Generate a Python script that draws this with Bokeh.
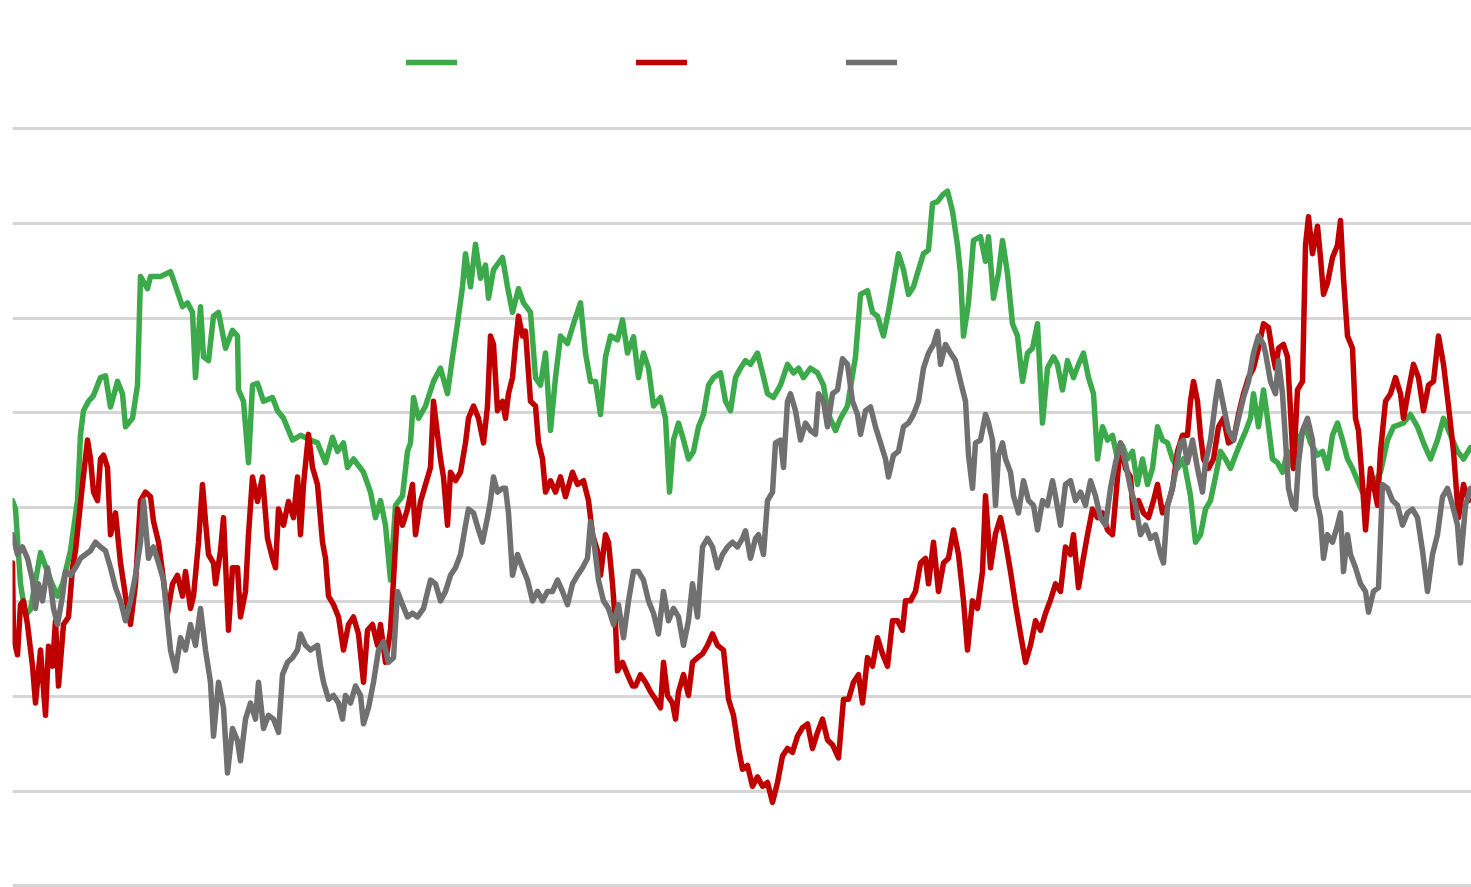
from bokeh.plotting import figure
from bokeh.models import Range1d, Grid, FixedTicker, Legend, LegendItem
from bokeh.embed import file_html
from bokeh.resources import INLINE

# ---- data (trading-day index, index level) ----
green_day = [0, 3, 8, 13, 18, 28, 38, 45, 50, 58, 65, 68, 71, 76, 81, 88, 93, 98, 105, 110, 113, 120, 125, 128, 135, 138, 148, 158, 163, 170, 175, 180, 183, 188, 191, 196, 201, 206, 213, 220, 225, 226, 231, 236, 240, 245, 251, 260, 265, 271, 280, 288, 298, 305, 313, 320, 325, 331, 335, 341, 351, 358, 363, 368, 373, 378, 383, 390, 395, 398, 401, 406, 413, 421, 428, 435, 440, 445, 450, 453, 458, 463, 468, 473, 476, 481, 490, 495, 500, 506, 511, 518, 523, 528, 533, 538, 543, 548, 555, 561, 568, 573, 578, 583, 588, 593, 598, 605, 610, 615, 621, 626, 631, 636, 641, 648, 653, 657, 661, 666, 671, 676, 681, 686, 691, 696, 701, 708, 713, 718, 723, 728, 733, 738, 745, 750, 755, 761, 768, 775, 781, 786, 791, 798, 805, 811, 816, 823, 828, 835, 843, 848, 855, 860, 865, 871, 876, 881, 886, 891, 896, 901, 906, 911, 916, 920, 925, 930, 935, 940, 945, 948, 951, 956, 961, 968, 973, 976, 981, 986, 990, 995, 1000, 1005, 1010, 1015, 1020, 1025, 1030, 1035, 1041, 1045, 1050, 1055, 1061, 1066, 1071, 1076, 1081, 1085, 1090, 1095, 1100, 1105, 1110, 1115, 1120, 1125, 1130, 1135, 1140, 1145, 1150, 1155, 1160, 1165, 1171, 1178, 1183, 1188, 1193, 1198, 1203, 1208, 1213, 1218, 1223, 1228, 1233, 1238, 1241, 1246, 1251, 1255, 1260, 1265, 1270, 1275, 1281, 1288, 1293, 1298, 1305, 1310, 1315, 1320, 1325, 1330, 1335, 1340, 1345, 1350, 1358, 1368, 1375, 1381, 1391, 1398, 1405, 1411, 1418, 1425, 1431, 1438, 1445, 1451, 1458]
green_val = [40.7, 39.8, 31.9, 28.6, 29.2, 35.2, 32.3, 30.6, 31.9, 35.4, 40.7, 47.7, 50.2, 51.2, 51.8, 53.7, 53.9, 50.6, 53.3, 52.0, 48.5, 49.4, 52.9, 64.4, 63.1, 64.4, 64.4, 64.9, 63.4, 61.2, 61.6, 60.6, 53.7, 61.2, 55.9, 55.5, 60.2, 60.6, 56.8, 58.7, 58.1, 52.4, 51.2, 44.7, 52.9, 53.1, 51.2, 51.6, 50.2, 49.4, 47.1, 47.6, 47.1, 46.8, 44.7, 47.4, 45.9, 46.8, 44.2, 45.1, 43.7, 41.6, 38.9, 40.7, 38.1, 32.3, 40.2, 41.2, 45.9, 46.8, 51.6, 49.4, 50.7, 53.3, 54.7, 52.0, 55.9, 59.4, 63.3, 66.8, 63.3, 67.8, 64.2, 65.6, 62.1, 65.1, 66.4, 63.3, 60.6, 63.1, 61.6, 60.6, 53.7, 52.9, 56.3, 48.1, 53.7, 58.1, 57.3, 59.4, 61.6, 56.3, 53.3, 53.3, 49.8, 55.9, 58.1, 57.7, 59.8, 56.3, 58.0, 53.7, 56.3, 54.7, 50.7, 51.6, 49.4, 41.6, 47.1, 48.9, 47.1, 45.1, 45.9, 48.5, 49.8, 52.9, 53.7, 54.2, 51.2, 50.2, 53.7, 54.7, 55.5, 55.1, 56.3, 54.2, 52.0, 51.6, 52.9, 55.1, 54.2, 54.7, 53.7, 54.7, 54.2, 52.9, 49.8, 48.1, 49.4, 50.7, 55.9, 62.5, 62.9, 60.6, 60.2, 58.1, 60.7, 63.7, 66.8, 65.1, 62.5, 63.3, 65.1, 66.8, 67.2, 72.1, 72.3, 73.0, 73.4, 71.3, 67.7, 64.7, 58.1, 61.6, 68.2, 68.6, 66.0, 68.6, 62.1, 64.7, 68.2, 64.7, 59.4, 58.1, 53.3, 56.3, 56.8, 59.4, 48.9, 54.7, 55.9, 55.1, 52.4, 55.5, 53.7, 55.1, 56.3, 53.7, 52.0, 45.1, 48.5, 47.1, 47.6, 45.1, 46.5, 45.1, 45.9, 42.4, 45.1, 42.4, 44.1, 48.5, 47.1, 46.8, 45.1, 44.1, 45.1, 41.2, 36.3, 37.1, 39.8, 40.7, 43.2, 45.9, 45.1, 44.1, 45.5, 46.8, 48.0, 49.4, 52.0, 48.5, 52.4, 49.4, 45.1, 44.7, 43.7, 45.9, 44.1, 47.6, 48.5, 46.8, 45.5, 45.9, 44.1, 47.6, 48.9, 47.1, 45.1, 44.1, 42.8, 41.6, 41.9, 43.7, 47.1, 48.5, 48.9, 49.8, 48.5, 46.8, 45.1, 47.1, 49.4, 47.6, 45.9, 45.1, 46.3]

red_day = [0, 1, 5, 8, 11, 15, 20, 23, 28, 33, 36, 40, 43, 46, 51, 56, 60, 63, 70, 75, 78, 81, 85, 88, 91, 95, 98, 103, 108, 113, 118, 123, 128, 133, 138, 141, 146, 151, 155, 160, 165, 170, 173, 178, 181, 186, 190, 193, 196, 201, 203, 208, 211, 216, 220, 225, 228, 233, 236, 240, 245, 250, 255, 260, 263, 266, 271, 276, 281, 285, 288, 291, 296, 300, 305, 310, 313, 316, 321, 326, 331, 336, 341, 346, 351, 355, 360, 365, 368, 373, 378, 381, 385, 390, 395, 400, 403, 408, 413, 418, 421, 425, 428, 431, 435, 438, 443, 448, 453, 456, 461, 466, 471, 475, 478, 481, 485, 490, 493, 496, 500, 503, 506, 510, 513, 518, 523, 526, 530, 533, 538, 543, 548, 553, 560, 565, 571, 576, 580, 585, 588, 593, 596, 600, 603, 605, 610, 615, 620, 623, 628, 633, 638, 643, 648, 651, 655, 660, 663, 666, 671, 676, 680, 685, 690, 695, 700, 705, 711, 716, 721, 726, 730, 735, 740, 745, 750, 755, 760, 765, 770, 775, 780, 785, 790, 795, 800, 805, 810, 815, 820, 826, 831, 836, 841, 846, 850, 855, 860, 865, 870, 875, 880, 885, 890, 893, 898, 903, 908, 913, 916, 921, 926, 931, 936, 941, 946, 951, 955, 960, 965, 970, 973, 978, 983, 988, 993, 998, 1003, 1008, 1013, 1018, 1023, 1028, 1033, 1038, 1043, 1048, 1053, 1058, 1061, 1066, 1070, 1075, 1080, 1085, 1090, 1095, 1100, 1103, 1108, 1113, 1118, 1121, 1126, 1131, 1136, 1141, 1145, 1150, 1155, 1160, 1165, 1170, 1175, 1178, 1181, 1185, 1188, 1191, 1196, 1201, 1206, 1211, 1216, 1221, 1226, 1231, 1236, 1241, 1246, 1251, 1256, 1260, 1263, 1266, 1271, 1275, 1278, 1281, 1285, 1290, 1293, 1296, 1300, 1305, 1308, 1311, 1315, 1320, 1325, 1328, 1331, 1335, 1340, 1343, 1346, 1350, 1353, 1358, 1361, 1365, 1368, 1373, 1378, 1383, 1388, 1391, 1396, 1401, 1406, 1411, 1416, 1421, 1426, 1431, 1436, 1441, 1446, 1451, 1456]
red_val = [34.1, 26.2, 24.4, 29.7, 30.1, 27.6, 23.2, 19.3, 24.9, 18.0, 25.3, 23.2, 28.0, 21.1, 27.6, 28.4, 33.6, 35.4, 42.4, 47.1, 45.1, 41.6, 40.7, 45.1, 45.5, 44.2, 37.1, 39.4, 34.1, 30.6, 27.6, 31.9, 40.7, 41.6, 41.1, 38.5, 36.3, 32.3, 28.8, 31.9, 32.8, 30.6, 33.2, 29.3, 30.6, 36.3, 42.4, 38.5, 35.0, 34.1, 31.9, 35.4, 38.9, 27.0, 33.6, 33.6, 28.4, 31.1, 37.1, 43.2, 40.6, 43.2, 36.7, 34.6, 33.6, 39.8, 38.1, 40.6, 38.9, 43.2, 37.1, 42.4, 47.7, 44.2, 42.4, 36.3, 34.6, 30.6, 29.7, 28.4, 24.9, 27.6, 28.4, 26.6, 21.5, 27.0, 27.6, 25.4, 27.6, 23.6, 27.0, 32.3, 39.8, 38.1, 39.8, 42.4, 37.1, 40.6, 42.4, 44.2, 51.2, 47.7, 45.1, 43.2, 38.1, 43.7, 42.8, 43.7, 46.8, 49.4, 50.7, 49.4, 46.8, 50.7, 58.1, 57.2, 50.2, 51.2, 49.4, 52.0, 53.7, 57.2, 60.2, 58.1, 58.6, 51.2, 50.7, 46.8, 45.1, 41.6, 42.8, 41.6, 43.2, 41.1, 43.7, 42.4, 42.8, 40.7, 37.1, 35.4, 32.8, 37.1, 36.3, 31.9, 27.6, 22.7, 23.6, 22.3, 21.1, 21.1, 22.3, 21.5, 20.5, 19.7, 18.8, 23.6, 20.1, 19.3, 17.6, 20.5, 22.3, 20.1, 23.6, 24.1, 24.5, 25.4, 26.6, 25.4, 24.9, 19.7, 18.0, 14.5, 12.3, 12.7, 10.5, 11.5, 10.5, 10.9, 8.8, 10.9, 13.7, 14.5, 14.1, 15.8, 16.7, 17.1, 14.5, 16.2, 17.6, 15.4, 14.9, 13.5, 19.7, 19.7, 21.5, 22.3, 19.3, 24.1, 23.2, 26.2, 24.5, 23.2, 28.0, 28.0, 27.0, 30.1, 30.1, 31.1, 34.1, 34.6, 31.9, 36.3, 31.1, 34.1, 34.6, 37.6, 35.0, 30.1, 24.9, 30.1, 29.3, 33.2, 41.2, 33.6, 37.2, 38.9, 36.3, 33.2, 29.7, 26.6, 23.6, 25.4, 28.0, 27.0, 28.8, 30.2, 31.9, 31.1, 35.8, 35.0, 37.1, 31.5, 34.1, 37.1, 39.8, 38.9, 39.4, 37.6, 37.1, 40.7, 46.8, 44.1, 43.2, 38.9, 40.7, 39.4, 38.9, 40.7, 42.4, 39.4, 40.2, 42.0, 45.9, 47.6, 47.6, 51.2, 53.3, 51.2, 47.6, 45.1, 44.1, 45.1, 48.5, 49.4, 46.8, 47.1, 49.8, 52.0, 53.7, 54.7, 56.8, 59.4, 59.0, 56.3, 54.7, 56.8, 57.2, 55.9, 50.2, 44.1, 52.4, 53.3, 67.7, 70.7, 66.8, 69.7, 66.4, 62.5, 63.7, 66.4, 67.7, 70.3, 64.2, 58.1, 56.8, 49.4, 48.1, 42.4, 37.6, 44.1, 42.4, 40.2, 45.9, 51.2, 52.0, 53.7, 52.0, 49.4, 52.4, 55.1, 53.7, 50.2, 52.9, 53.3, 58.1, 55.1, 50.7, 45.9, 38.9, 42.4, 40.7]

gray_day = [0, 5, 10, 15, 20, 23, 26, 30, 35, 38, 41, 45, 50, 53, 58, 63, 68, 73, 78, 83, 88, 93, 98, 103, 108, 113, 118, 123, 128, 131, 136, 141, 146, 151, 155, 158, 163, 168, 173, 178, 183, 188, 193, 198, 201, 206, 211, 215, 220, 225, 228, 233, 238, 243, 246, 251, 256, 261, 266, 270, 275, 280, 285, 288, 293, 298, 305, 308, 311, 316, 321, 326, 330, 333, 338, 343, 348, 351, 356, 361, 366, 371, 376, 381, 385, 390, 395, 400, 405, 411, 418, 423, 428, 433, 438, 443, 448, 453, 456, 461, 466, 470, 475, 478, 481, 485, 490, 493, 496, 500, 505, 510, 515, 520, 525, 530, 535, 540, 545, 550, 555, 560, 565, 570, 575, 578, 581, 586, 591, 596, 601, 606, 611, 616, 621, 626, 631, 636, 641, 646, 651, 656, 661, 666, 671, 676, 680, 685, 690, 695, 700, 705, 710, 715, 720, 725, 730, 733, 738, 743, 746, 751, 755, 760, 763, 768, 771, 775, 778, 783, 788, 793, 798, 803, 806, 811, 815, 820, 825, 830, 835, 840, 845, 848, 853, 858, 863, 868, 873, 876, 881, 886, 891, 896, 901, 906, 911, 916, 921, 925, 928, 933, 938, 943, 948, 953, 956, 960, 963, 968, 973, 976, 980, 983, 986, 990, 993, 998, 1001, 1006, 1011, 1016, 1021, 1025, 1030, 1035, 1040, 1043, 1048, 1053, 1058, 1063, 1068, 1073, 1078, 1083, 1088, 1093, 1098, 1103, 1108, 1113, 1118, 1123, 1128, 1133, 1138, 1143, 1148, 1151, 1155, 1158, 1163, 1168, 1171, 1175, 1180, 1185, 1190, 1193, 1198, 1203, 1206, 1211, 1216, 1221, 1226, 1231, 1236, 1241, 1246, 1251, 1253, 1258, 1263, 1266, 1270, 1273, 1276, 1280, 1283, 1286, 1290, 1295, 1300, 1303, 1308, 1311, 1315, 1320, 1325, 1328, 1331, 1335, 1338, 1343, 1348, 1353, 1356, 1361, 1366, 1370, 1375, 1380, 1385, 1390, 1395, 1400, 1405, 1410, 1415, 1420, 1425, 1430, 1435, 1440, 1445, 1448, 1453, 1458]
gray_val = [37.1, 35.0, 35.8, 34.6, 32.3, 29.3, 31.9, 30.1, 33.6, 31.9, 29.3, 27.6, 30.6, 33.2, 32.8, 33.6, 34.6, 35.0, 35.4, 36.3, 35.8, 35.4, 33.6, 31.5, 30.1, 28.0, 30.1, 32.8, 36.3, 40.7, 34.6, 35.8, 34.1, 32.3, 28.0, 24.9, 22.7, 26.2, 24.9, 27.6, 25.4, 29.3, 24.9, 21.5, 15.8, 21.5, 18.8, 11.9, 16.6, 15.3, 13.2, 17.6, 19.3, 17.6, 21.5, 16.6, 18.0, 17.6, 16.2, 22.3, 23.6, 24.1, 24.9, 26.6, 25.4, 24.9, 25.4, 23.2, 21.5, 19.7, 20.1, 19.3, 17.6, 20.1, 19.3, 21.1, 20.1, 17.1, 18.8, 21.5, 24.9, 25.8, 23.6, 24.1, 31.1, 29.7, 28.4, 28.8, 28.4, 29.3, 32.3, 31.9, 30.1, 31.1, 32.8, 33.6, 35.0, 38.1, 39.8, 39.4, 37.6, 36.3, 38.9, 40.7, 43.2, 41.6, 42.0, 42.0, 39.4, 32.8, 35.0, 33.6, 32.3, 30.1, 31.1, 30.1, 31.1, 31.1, 32.3, 31.1, 29.7, 31.9, 32.8, 33.6, 34.6, 38.5, 36.7, 32.3, 30.1, 29.3, 27.6, 29.7, 26.2, 30.1, 33.2, 33.2, 32.3, 30.1, 28.8, 26.6, 31.1, 28.0, 29.3, 28.4, 25.4, 28.0, 31.9, 28.4, 35.8, 36.7, 35.8, 33.6, 35.0, 35.8, 36.3, 35.8, 36.7, 37.5, 34.6, 36.7, 37.1, 35.0, 40.7, 41.6, 46.8, 47.1, 44.2, 51.2, 52.0, 50.2, 47.1, 48.9, 48.1, 47.7, 52.0, 51.2, 48.5, 52.0, 52.4, 55.7, 55.1, 51.2, 49.8, 47.7, 50.2, 50.6, 48.5, 46.8, 45.1, 43.2, 45.5, 45.9, 48.5, 48.9, 49.8, 51.2, 54.7, 56.3, 57.2, 58.6, 55.1, 57.2, 56.3, 55.5, 53.3, 51.2, 45.5, 42.0, 46.8, 47.1, 49.8, 48.9, 47.1, 40.2, 45.5, 46.8, 45.1, 43.7, 41.2, 39.4, 42.8, 40.7, 40.2, 37.6, 40.7, 40.2, 42.8, 41.2, 38.1, 42.4, 42.8, 40.7, 41.6, 40.2, 42.8, 41.2, 38.9, 38.1, 42.0, 44.7, 46.8, 44.7, 42.0, 40.2, 37.1, 38.1, 36.7, 37.1, 35.0, 34.1, 40.2, 41.2, 43.7, 46.8, 47.1, 44.7, 47.1, 44.1, 41.6, 44.7, 47.1, 51.2, 53.3, 50.7, 48.1, 47.1, 49.4, 51.6, 53.3, 56.3, 58.1, 57.2, 56.3, 53.3, 52.0, 55.5, 52.0, 47.1, 42.0, 40.2, 39.8, 44.7, 48.1, 49.4, 47.1, 41.2, 38.9, 34.6, 37.1, 36.3, 38.1, 39.4, 33.2, 37.1, 35.0, 33.6, 31.9, 31.1, 28.9, 31.1, 31.5, 42.4, 42.0, 40.7, 40.2, 38.1, 39.4, 39.8, 38.9, 35.4, 31.1, 35.0, 37.1, 41.1, 42.0, 40.2, 38.1, 34.1, 40.2, 42.0]

grid_levels = [0, 10, 20, 30, 40, 50, 60, 70, 80]

GREEN = "#3caa4b"
RED = "#c00000"
GRAY = "#707070"

p = figure(width=1471, height=887, output_backend="svg", toolbar_location=None,
           x_axis_type=None, y_axis_type=None,
           x_range=Range1d(0, 1459), y_range=Range1d(-0.2, 92.72),
           min_border_left=12, min_border_right=0, min_border_top=8, min_border_bottom=0)
p.outline_line_color = None
p.background_fill_color = "white"
p.border_fill_color = "white"

grid = Grid(dimension=1, ticker=FixedTicker(ticks=grid_levels),
            grid_line_color="#d6d6d6", grid_line_width=3)
p.add_layout(grid)

rg = p.line(green_day, green_val, line_color=GREEN, line_width=5.5, line_join="round", line_cap="round")
rr = p.line(red_day, red_val, line_color=RED, line_width=5.5, line_join="round", line_cap="round")
rk = p.line(gray_day, gray_val, line_color=GRAY, line_width=5.5, line_join="round", line_cap="round")

for r, loc in [(rg, (394, 820)), (rr, (624, 820)), (rk, (834, 820))]:
    lg = Legend(items=[LegendItem(label=" ", renderers=[r])], location=loc,
                orientation="horizontal", padding=0, margin=0, spacing=0,
                border_line_color=None, background_fill_alpha=0,
                glyph_width=51, glyph_height=10, label_height=10, label_width=0,
                label_standoff=0, label_text_font_size="2px", label_text_alpha=0)
    p.add_layout(lg)

open("out.html", "w").write(file_html(p, INLINE))
